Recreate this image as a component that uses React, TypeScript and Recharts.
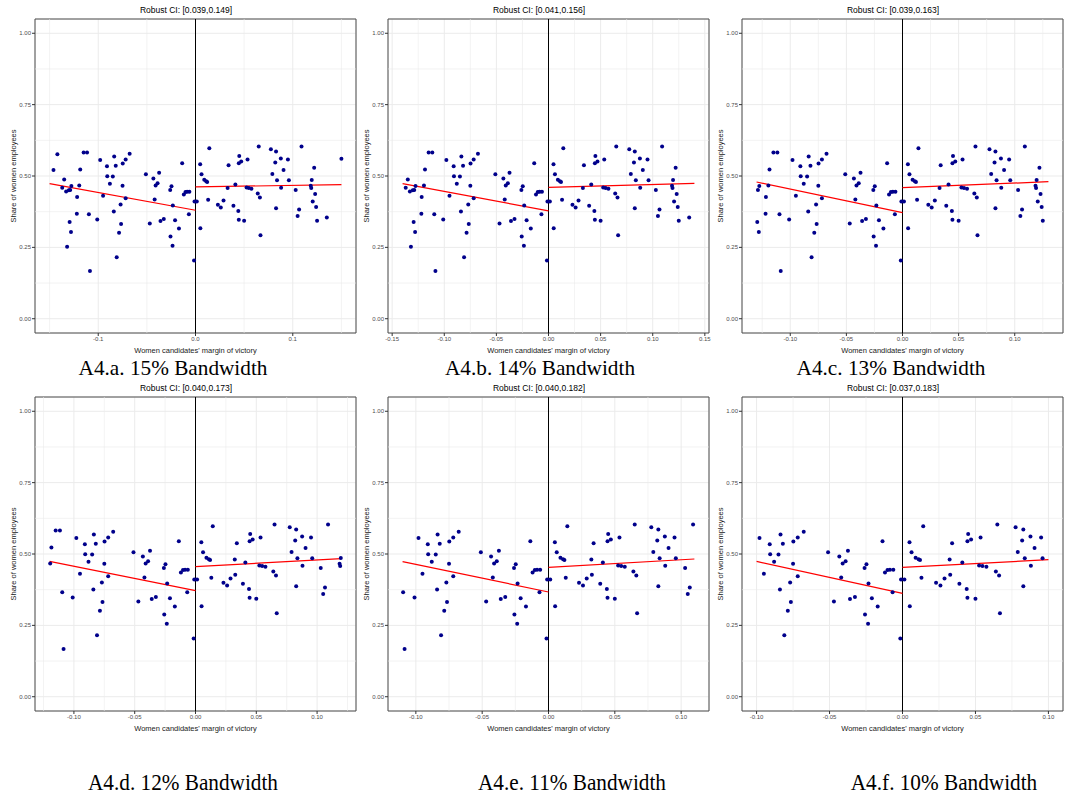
import {
  CartesianGrid,
  ReferenceArea,
  ReferenceLine,
  Scatter,
  ScatterChart,
  XAxis,
  YAxis,
} from 'recharts'

// one panel per bandwidth, same binned data cut at +/- bandwidth
const bandwidths = [0.15, 0.14, 0.13, 0.12, 0.11, 0.1]
const captions = [
  'A4.a. 15% Bandwidth',
  'A4.b. 14% Bandwidth',
  'A4.c. 13% Bandwidth',
  'A4.d. 12% Bandwidth',
  'A4.e. 11% Bandwidth',
  'A4.f. 10% Bandwidth',
]
const ciLabels = [
  'Robust CI: [0.039,0.149]',
  'Robust CI: [0.041,0.156]',
  'Robust CI: [0.039,0.163]',
  'Robust CI: [0.040,0.173]',
  'Robust CI: [0.040,0.182]',
  'Robust CI: [0.037,0.183]',
]
const xTicks = [
  [-0.1, 0, 0.1],
  [-0.15, -0.1, -0.05, 0, 0.05, 0.1, 0.15],
  [-0.1, -0.05, 0, 0.05, 0.1],
  [-0.1, -0.05, 0, 0.05, 0.1],
  [-0.1, -0.05, 0, 0.05, 0.1],
  [-0.1, -0.05, 0, 0.05, 0.1],
]
const xMinor = [
  [-0.15, -0.05, 0.05, 0.15],
  [-0.125, -0.075, -0.025, 0.025, 0.075, 0.125],
  [-0.125, -0.075, -0.025, 0.025, 0.075, 0.125],
  [-0.125, -0.075, -0.025, 0.025, 0.075, 0.125],
  [-0.075, -0.025, 0.025, 0.075],
  [-0.075, -0.025, 0.025, 0.075],
]
const yTicks = [0, 0.25, 0.5, 0.75, 1]
const yMinor = [0.125, 0.375, 0.625, 0.875]

// fitted lines: [value at -bandwidth, value at 0] and [value at 0, value at +bandwidth]
const fitLeft = [
  [0.473, 0.38],
  [0.473, 0.378],
  [0.479, 0.372],
  [0.474, 0.3715],
  [0.473, 0.367],
  [0.474, 0.362],
]
const fitRight = [
  [0.462, 0.4695],
  [0.46, 0.474],
  [0.459, 0.48],
  [0.4556, 0.4836],
  [0.453, 0.4825],
  [0.453, 0.48],
]

// bin means: [margin of victory, share of women employees]
const leftBins: [number, number][] = [
  [-0.146, 0.521], [-0.142, 0.576], [-0.137, 0.459], [-0.135, 0.488],
  [-0.133, 0.446], [-0.132, 0.252], [-0.1294, 0.339], [-0.1302, 0.45],
  [-0.1288, 0.451], [-0.128, 0.304], [-0.1276, 0.465], [-0.1217, 0.426],
  [-0.122, 0.368], [-0.1195, 0.467], [-0.1185, 0.523], [-0.115, 0.582],
  [-0.1115, 0.582], [-0.1096, 0.366], [-0.1085, 0.167], [-0.101, 0.348],
  [-0.098, 0.556], [-0.095, 0.431], [-0.091, 0.534], [-0.0907, 0.499],
  [-0.088, 0.473], [-0.085, 0.498], [-0.0836, 0.568], [-0.084, 0.376],
  [-0.082, 0.536], [-0.081, 0.215], [-0.0786, 0.301], [-0.077, 0.4],
  [-0.0765, 0.332], [-0.075, 0.466], [-0.0748, 0.544], [-0.0718, 0.558],
  [-0.0718, 0.422], [-0.0677, 0.578], [-0.051, 0.506], [-0.047, 0.334],
  [-0.0433, 0.491], [-0.042, 0.418], [-0.041, 0.467], [-0.039, 0.475],
  [-0.0374, 0.511], [-0.036, 0.342], [-0.0326, 0.349], [-0.026, 0.451],
  [-0.0257, 0.288], [-0.0247, 0.464], [-0.0236, 0.256], [-0.0233, 0.397],
  [-0.021, 0.345], [-0.017, 0.316], [-0.0137, 0.545], [-0.012, 0.435],
  [-0.0103, 0.444], [-0.0086, 0.445], [-0.0063, 0.445], [-0.0068, 0.366],
  [-0.0015, 0.204], [-0.001, 0.411],
]
const rightBins: [number, number][] = [
  [0.0013, 0.411], [0.0048, 0.541], [0.005, 0.317], [0.0062, 0.506],
  [0.009, 0.487], [0.011, 0.482], [0.012, 0.479], [0.013, 0.417],
  [0.0142, 0.597], [0.023, 0.399], [0.026, 0.39], [0.0288, 0.414],
  [0.034, 0.538], [0.039, 0.396], [0.041, 0.47],
  [0.044, 0.377], [0.0445, 0.347], [0.0445, 0.545], [0.045, 0.57],
  [0.047, 0.551], [0.05, 0.343], [0.0535, 0.558], [0.0525, 0.46],
  [0.0548, 0.458], [0.0575, 0.455], [0.064, 0.439], [0.065, 0.603],
  [0.0662, 0.425], [0.0668, 0.292], [0.0775, 0.594], [0.079, 0.507],
  [0.082, 0.547], [0.0828, 0.586], [0.0828, 0.387], [0.0838, 0.485],
  [0.0877, 0.561], [0.088, 0.459], [0.0905, 0.521], [0.095, 0.558],
  [0.096, 0.485], [0.103, 0.451], [0.105, 0.36], [0.1065, 0.383],
  [0.109, 0.603], [0.1185, 0.466], [0.119, 0.458], [0.1195, 0.486],
  [0.1205, 0.411], [0.122, 0.529], [0.123, 0.437], [0.124, 0.391],
  [0.125, 0.343], [0.135, 0.355], [0.15, 0.56],
]
// the bin near 0.033 is one point in the wide panels and two in the narrow ones
const wideBins: [number, number][] = [[0.033, 0.458]]
const narrowBins: [number, number][] = [[0.0323, 0.481], [0.0327, 0.427]]

const sans = "'Liberation Sans', Arial, sans-serif"
const serif = "'Liberation Serif', 'Times New Roman', serif"
const cellLeft = [0, 353, 707]
const rowTop = [0, 378]

function Dot(props: any) {
  return <circle cx={props.cx} cy={props.cy} r={2} fill='#00008b' />
}

function Panel({ i }: { i: number }) {
  const bw = bandwidths[i]
  const lim = bw * 1.1
  const extra = bw > 0.125 ? wideBins : narrowBins
  const points = [...leftBins, ...rightBins, ...extra]
    .filter(([x]) => Math.abs(x) <= bw + 1e-9)
    .map(([x, y]) => ({ x, y }))
  const digits = i === 0 ? 1 : 2
  const left = cellLeft[i % 3]
  const top = rowTop[Math.floor(i / 3)]

  return (
    <div style={{ position: 'absolute', left, top, width: 358, height: 355 }}>
      <div
        style={{
          position: 'absolute',
          left: 186 - 100,
          width: 200,
          top: 5,
          textAlign: 'center',
          fontFamily: sans,
          fontSize: 8.5,
          lineHeight: '10px',
          color: '#000',
        }}
      >
        {ciLabels[i]}
      </div>
      <ScatterChart
        width={358}
        height={355}
        margin={{ top: 19, right: 2, left: 0, bottom: 0 }}
        style={{ fontFamily: sans }}
      >
        <CartesianGrid stroke='#ebebeb' strokeWidth={1} />
        {xMinor[i]
          .filter((v) => Math.abs(v) < lim)
          .map((v) => (
            <ReferenceLine key={'vx' + v} x={v} stroke='#ebebeb' strokeWidth={0.6} />
          ))}
        {yMinor.map((v) => (
          <ReferenceLine key={'hy' + v} y={v} stroke='#ebebeb' strokeWidth={0.6} />
        ))}
        <XAxis
          type='number'
          dataKey='x'
          domain={[-lim, lim]}
          ticks={xTicks[i]}
          tickFormatter={(v: number) => v.toFixed(digits)}
          axisLine={false}
          tickLine={{ stroke: '#333333' }}
          tickSize={3}
          tickMargin={1}
          height={22}
          tick={{ fontSize: 6, fill: '#4d4d4d' }}
          label={{
            value: "Women candidates' margin of victory",
            position: 'insideBottom',
            offset: 2,
            fontSize: 7.5,
            fill: '#1a1a1a',
            style: { fill: '#1a1a1a' },
          }}
        />
        <YAxis
          type='number'
          dataKey='y'
          domain={[-0.05, 1.05]}
          ticks={yTicks}
          tickFormatter={(v: number) => v.toFixed(2)}
          axisLine={false}
          tickLine={{ stroke: '#333333' }}
          tickSize={3}
          tickMargin={1}
          width={35}
          tick={{ fontSize: 6, fill: '#4d4d4d' }}
          label={{
            value: 'Share of women employees',
            angle: -90,
            position: 'insideLeft',
            offset: 13,
            fontSize: 7.5,
            fill: '#1a1a1a',
            style: { textAnchor: 'middle', fill: '#1a1a1a' },
          }}
        />
        <Scatter data={points} shape={Dot} isAnimationActive={false} />
        <ReferenceLine x={0} stroke='#000' strokeWidth={1} />
        <ReferenceLine
          segment={[
            { x: -bw, y: fitLeft[i][0] },
            { x: 0, y: fitLeft[i][1] },
          ]}
          stroke='#ff0000'
          strokeWidth={1.2}
        />
        <ReferenceLine
          segment={[
            { x: 0, y: fitRight[i][0] },
            { x: bw, y: fitRight[i][1] },
          ]}
          stroke='#ff0000'
          strokeWidth={1.2}
        />
        <ReferenceArea
          x1={-lim}
          x2={lim}
          y1={-0.05}
          y2={1.05}
          fill='none'
          fillOpacity={0}
          stroke='#4d4d4d'
          strokeWidth={1}
          strokeOpacity={1}
        />
      </ScatterChart>
    </div>
  )
}

const captionCenters = [173, 540, 891, 183, 572, 944]

export default function App() {
  return (
    <div
      style={{
        position: 'absolute',
        left: 0,
        top: 0,
        width: 1066,
        height: 798,
        background: '#fff',
        overflow: 'hidden',
      }}
    >
      {bandwidths.map((_, i) => (
        <Panel key={i} i={i} />
      ))}
      {captions.map((c, i) => {
        const bottom = i >= 3
        return (
          <div
            key={c}
            style={{
              position: 'absolute',
              left: captionCenters[i] - 150,
              width: 300,
              top: bottom ? 770 : 358,
              textAlign: 'center',
              fontFamily: serif,
              fontSize: bottom ? 24 : 21.25,
              lineHeight: bottom ? '24px' : '21px',
              color: '#000',
              transform: bottom ? 'scaleX(0.885)' : undefined,
              whiteSpace: 'nowrap',
            }}
          >
            {c}
          </div>
        )
      })}
    </div>
  )
}
